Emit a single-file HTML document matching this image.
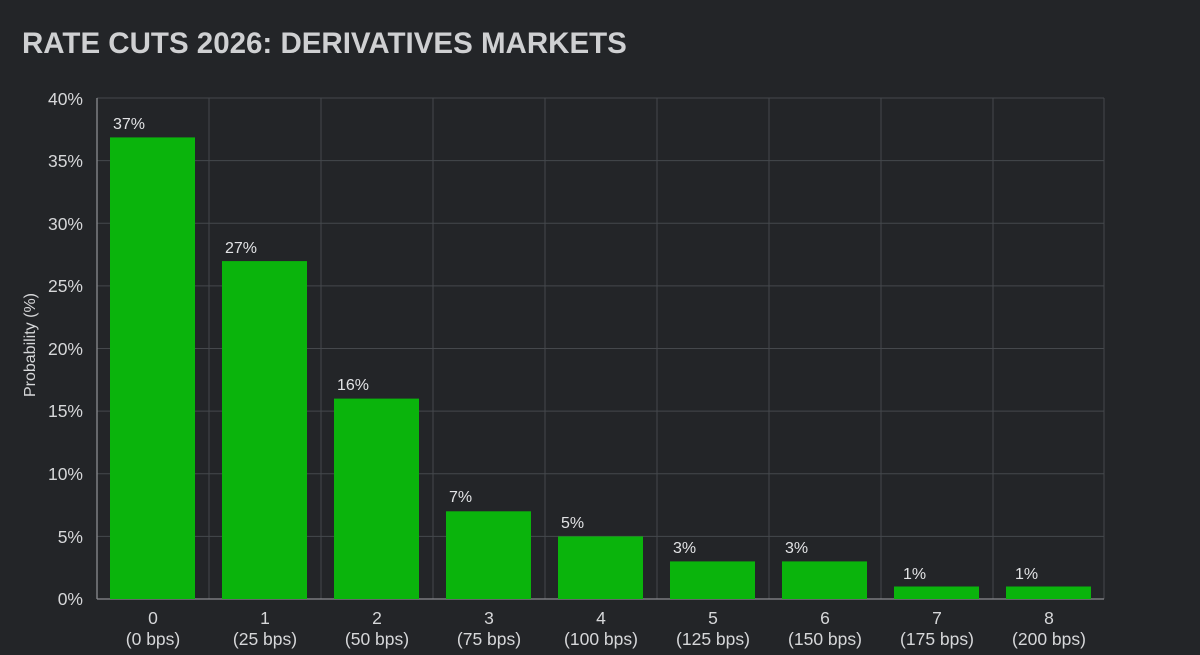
<!DOCTYPE html><html><head><style>body{margin:0;background:#232528;}svg{display:block}</style></head><body>
<svg width="1200" height="655" xmlns="http://www.w3.org/2000/svg" font-family="Liberation Sans, sans-serif">
<rect width="1200" height="655" fill="#232528"/>
<text x="22" y="53" font-size="29.5" font-weight="bold" fill="#cfd0d2">RATE CUTS 2026: DERIVATIVES MARKETS</text>
<g stroke="#45484c" stroke-width="1">
<line x1="97" y1="98" x2="1104" y2="98"/><line x1="97" y1="160.6" x2="1104" y2="160.6"/><line x1="97" y1="223.3" x2="1104" y2="223.3"/><line x1="97" y1="285.9" x2="1104" y2="285.9"/><line x1="97" y1="348.5" x2="1104" y2="348.5"/><line x1="97" y1="411.1" x2="1104" y2="411.1"/><line x1="97" y1="473.8" x2="1104" y2="473.8"/><line x1="97" y1="536.4" x2="1104" y2="536.4"/>
<line x1="209" y1="98" x2="209" y2="599"/><line x1="321" y1="98" x2="321" y2="599"/><line x1="433" y1="98" x2="433" y2="599"/><line x1="545" y1="98" x2="545" y2="599"/><line x1="657" y1="98" x2="657" y2="599"/><line x1="769" y1="98" x2="769" y2="599"/><line x1="881" y1="98" x2="881" y2="599"/><line x1="993" y1="98" x2="993" y2="599"/><line x1="1104" y1="98" x2="1104" y2="599"/>
</g>
<g stroke="#8a8c90" stroke-width="1.3"><line x1="97" y1="98" x2="97" y2="599"/><line x1="97" y1="599" x2="1104" y2="599"/></g>
<g font-size="17.5" fill="#d6d7d9" text-anchor="end">
<text x="83" y="105">40%</text><text x="83" y="167">35%</text><text x="83" y="230">30%</text><text x="83" y="292">25%</text><text x="83" y="355">20%</text><text x="83" y="417">15%</text><text x="83" y="480">10%</text><text x="83" y="543">5%</text><text x="83" y="605">0%</text>
</g>
<text transform="translate(35,345) rotate(-90)" font-size="16" fill="#d6d7d9" text-anchor="middle">Probability (%)</text>
<g fill="#0ab40c">
<rect x="110" y="137.4" width="85" height="461.6"/><rect x="222" y="261.1" width="85" height="337.9"/><rect x="334" y="398.6" width="85" height="200.4"/><rect x="446" y="511.3" width="85" height="87.7"/><rect x="558" y="536.4" width="85" height="62.6"/><rect x="670" y="561.4" width="85" height="37.6"/><rect x="782" y="561.4" width="85" height="37.6"/><rect x="894" y="586.5" width="85" height="12.5"/><rect x="1006" y="586.5" width="85" height="12.5"/>
</g>
<g font-size="16" fill="#e2e3e5">
<text x="113" y="129">37%</text><text x="225" y="253">27%</text><text x="337" y="390">16%</text><text x="449" y="502">7%</text><text x="561" y="528">5%</text><text x="673" y="553">3%</text><text x="785" y="553">3%</text><text x="903" y="579">1%</text><text x="1015" y="579">1%</text>
</g>
<g font-size="17.5" fill="#d6d7d9" text-anchor="middle">
<text x="153" y="624">0</text><text x="153" y="645">(0 bps)</text>
<text x="265" y="624">1</text><text x="265" y="645">(25 bps)</text>
<text x="377" y="624">2</text><text x="377" y="645">(50 bps)</text>
<text x="489" y="624">3</text><text x="489" y="645">(75 bps)</text>
<text x="601" y="624">4</text><text x="601" y="645">(100 bps)</text>
<text x="713" y="624">5</text><text x="713" y="645">(125 bps)</text>
<text x="825" y="624">6</text><text x="825" y="645">(150 bps)</text>
<text x="937" y="624">7</text><text x="937" y="645">(175 bps)</text>
<text x="1049" y="624">8</text><text x="1049" y="645">(200 bps)</text>
</g>
</svg></body></html>
